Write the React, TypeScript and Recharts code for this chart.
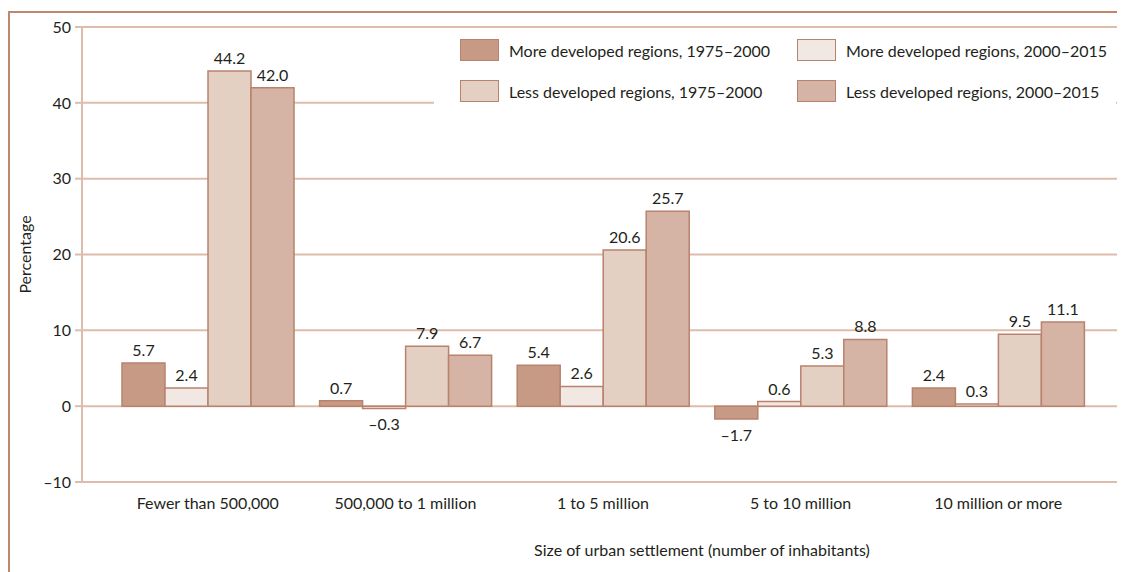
import React from 'react';
import { BarChart, Bar, XAxis, YAxis, CartesianGrid, LabelList, Label } from 'recharts';

const categories = [
  'Fewer than 500,000',
  '500,000 to 1 million',
  '1 to 5 million',
  '5 to 10 million',
  '10 million or more',
];
const moreDev7500 = [5.7, 0.7, 5.4, -1.7, 2.4];
const moreDev0015 = [2.4, -0.3, 2.6, 0.6, 0.3];
const lessDev7500 = [44.2, 7.9, 20.6, 5.3, 9.5];
const lessDev0015 = [42.0, 6.7, 25.7, 8.8, 11.1];
const seriesNames = [
  'More developed regions, 1975–2000',
  'More developed regions, 2000–2015',
  'Less developed regions, 1975–2000',
  'Less developed regions, 2000–2015',
];
const yTicks = [-10, 0, 10, 20, 30, 40, 50];

const keys = ['s1', 's2', 's3', 's4'];
const fills = ['#c79a86', '#f2e8e3', '#e4cfc3', '#d6b4a5'];
const barStroke = '#b9826c';
const gridColor = '#ddbcac';
const frameColor = '#c1876e';
const textColor = '#231f20';
const font = 'Lato, "Open Sans", sans-serif';

const data = categories.map((name, i) => ({
  name,
  s1: moreDev7500[i],
  s2: moreDev0015[i],
  s3: lessDev7500[i],
  s4: lessDev0015[i],
}));

const fmt = (v: number) => (v < 0 ? `–${Math.abs(v).toFixed(1)}` : v.toFixed(1));

const ValueLabel = (props: any) => {
  const { x, y, width, height, value } = props;
  const top = Math.min(y, y + height);
  const bottom = Math.max(y, y + height);
  const ty = value < 0 ? bottom + 22 : top - 7;
  return (
    <text x={x + width / 2} y={ty} textAnchor="middle" fontSize={16} fill={textColor} fontFamily={font}>
      {fmt(value)}
    </text>
  );
};

// legend slots: [left, top] of each swatch inside the legend box
const legendSlots = [
  [26, 10],
  [363, 10],
  [26, 51],
  [363, 51],
];

const App = () => {
  return (
    <div style={{ position: 'relative', width: 1117, height: 564, fontFamily: font }}>
      <div style={{ position: 'absolute', left: 0, top: 3, width: 1117, height: 2, background: frameColor }} />
      <div style={{ position: 'absolute', left: 0, top: 3, width: 2, height: 561, background: frameColor }} />
      <BarChart
        width={1117}
        height={564}
        data={data}
        margin={{ top: 19, right: 7, left: 8, bottom: 0 }}
        barSize={43}
        barGap={0}
      >
        <CartesianGrid vertical={false} stroke={gridColor} strokeWidth={2} />
        <XAxis
          dataKey="name"
          height={90}
          padding={{ left: 27, right: 21 }}
          tickLine={false}
          tickSize={0}
          tickMargin={16}
          axisLine={{ stroke: gridColor, strokeWidth: 2 }}
          tick={{ fill: textColor, fontSize: 16, fontFamily: font }}
        >
          <Label
            content={(p: any) => {
              const vb = p.viewBox;
              return (
                <text x={vb.x + vb.width / 2 + 102} y={vb.y + 74} textAnchor="middle" fontSize={16} fill={textColor} fontFamily={font}>
                  Size of urban settlement (number of inhabitants)
                </text>
              );
            }}
          />
        </XAxis>
        <YAxis
          width={66}
          domain={[-10, 50]}
          ticks={yTicks}
          interval={0}
          tickSize={7}
          tickMargin={4}
          tickLine={{ stroke: gridColor, strokeWidth: 2 }}
          axisLine={{ stroke: gridColor, strokeWidth: 2 }}
          tick={{ fill: textColor, fontSize: 16, fontFamily: font }}
          tickFormatter={(v: number) => (v < 0 ? `–${Math.abs(v)}` : `${v}`)}
        >
          <Label
            content={(p: any) => {
              const vb = p.viewBox;
              const cy = vb.y + vb.height / 2;
              return (
                <text x={16} y={cy} transform={`rotate(-90 16 ${cy})`} textAnchor="middle" dominantBaseline="central" fontSize={16} fill={textColor} fontFamily={font}>
                  Percentage
                </text>
              );
            }}
          />
        </YAxis>
        <YAxis
          yAxisId="right"
          orientation="right"
          width={0}
          domain={[-10, 50]}
          tick={false}
          tickLine={false}
          axisLine={{ stroke: gridColor, strokeWidth: 2 }}
        />
        {keys.map((k, i) => (
          <Bar key={k} dataKey={k} name={seriesNames[i]} fill={fills[i]} stroke={barStroke} strokeWidth={1.5} isAnimationActive={false}>
            <LabelList dataKey={k} content={ValueLabel} />
          </Bar>
        ))}
      </BarChart>
      <div style={{ position: 'absolute', left: 426, top: 21, width: 682, height: 92, background: '#fff' }}>
        {seriesNames.map((n, i) => (
          <div
            key={n}
            style={{
              position: 'absolute',
              left: legendSlots[i][0],
              top: legendSlots[i][1],
              display: 'flex',
              alignItems: 'center',
              whiteSpace: 'nowrap',
            }}
          >
            <div style={{ width: 37, height: 20, background: fills[i], border: `1.5px solid ${barStroke}`, marginRight: 10 }} />
            <span style={{ fontSize: 16, color: textColor }}>{n}</span>
          </div>
        ))}
      </div>
    </div>
  );
};

export default App;
